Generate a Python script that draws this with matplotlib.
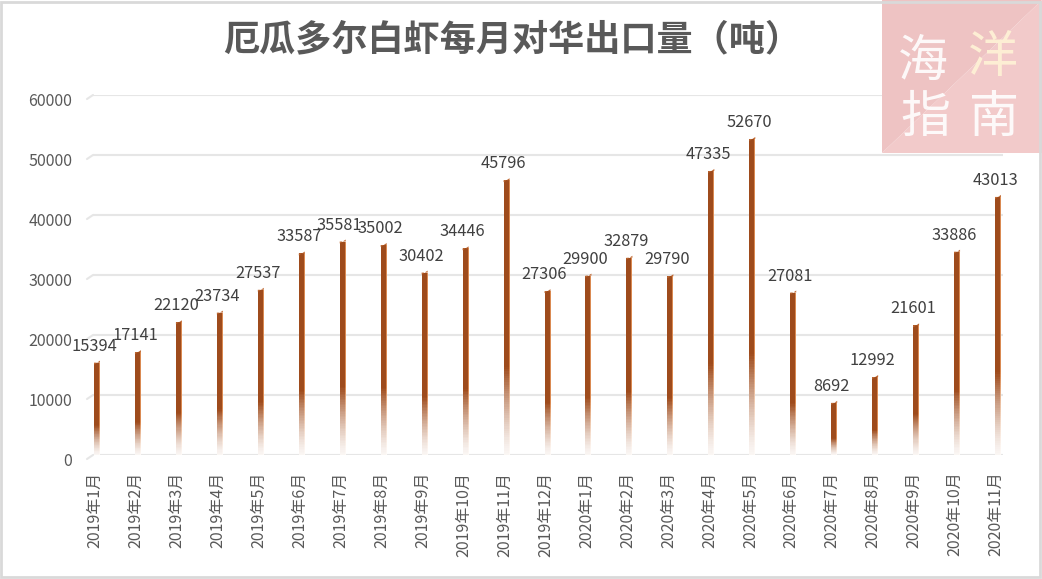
import numpy as np
import matplotlib
matplotlib.use("Agg")
import matplotlib.pyplot as plt
from matplotlib.patches import Polygon, Rectangle
from matplotlib.transforms import ScaledTranslation
from matplotlib.colors import to_rgb

plt.rcParams['font.family'] = ['Noto Sans CJK SC', 'DejaVu Sans']

title = "厄瓜多尔白虾每月对华出口量（吨）"
months = ["2019年1月", "2019年2月", "2019年3月", "2019年4月", "2019年5月", "2019年6月",
          "2019年7月", "2019年8月", "2019年9月", "2019年10月", "2019年11月", "2019年12月",
          "2020年1月", "2020年2月", "2020年3月", "2020年4月", "2020年5月", "2020年6月",
          "2020年7月", "2020年8月", "2020年9月", "2020年10月", "2020年11月"]
values = [15394, 17141, 22120, 23734, 27537, 33587, 35581, 35002, 30402, 34446, 45796, 27306,
          29900, 32879, 29790, 47335, 52670, 27081, 8692, 12992, 21601, 33886, 43013]
yticks = [0, 10000, 20000, 30000, 40000, 50000, 60000]

W, H = 1042, 579
fig = plt.figure(figsize=(W / 100, H / 100), dpi=100)
fig.patch.set_facecolor('white')

left_px, right_px, top_px, base_px = 93, 1003, 95, 455
ax = fig.add_axes([left_px / W, 1 - base_px / H, (right_px - left_px) / W, (base_px - top_px) / H])
ax.set_facecolor('none')
for s in ax.spines.values():
    s.set_visible(False)

n = len(values)
spacing_px = (998 - 97) / (n - 1)
x0 = -(97 - left_px) / spacing_px
x1 = x0 + (right_px - left_px) / spacing_px
ax.set_xlim(x0, x1)
ax.set_ylim(0, 60000)

# gridlines
ax.set_yticks(yticks)
ax.yaxis.grid(True, color='#E6E6E6', linewidth=1.5, zorder=0)
ax.set_axisbelow(True)
ax.tick_params(axis='y', length=0, pad=15, labelsize=11.5, labelcolor='#595959')
for lab in ax.get_yticklabels():
    lab.set_transform(lab.get_transform() + ScaledTranslation(0, -4 / 100, fig.dpi_scale_trans))

# small perspective stubs at left of gridlines
for yv in yticks:
    ax.annotate("", xy=(0, yv), xycoords=('axes fraction', 'data'),
                xytext=(-6, -4), textcoords='offset pixels',
                arrowprops=dict(arrowstyle='-', color='#E6E6E6', lw=1.5, shrinkA=0, shrinkB=0))

xs = np.arange(n)
vals = np.array(values, dtype=float)
ax.set_xticks(xs)
ax.set_xticklabels(months, rotation=90, va='top', ha='center')
ax.tick_params(axis='x', length=0, pad=12, labelsize=11.5, labelcolor='#595959')
for lab in ax.get_xticklabels():
    lab.set_transform(lab.get_transform() + ScaledTranslation(-2 / 100, 0, fig.dpi_scale_trans))

# bars: solid upper part + gradient fade at the bottom built from thin stacked slices
brown = np.array(to_rgb('#9E4B1C'))
light = np.array(to_rgb('#DA8A52'))
white = np.ones(3)
bw = 6 / spacing_px
main_w = bw * 5 / 6
strip_w = bw / 6
fade_frac = 0.32
K = 40

def shade(col, a):
    return a * col + (1 - a) * white

# solid upper part
ax.bar(xs - bw / 2, vals * (1 - fade_frac), bottom=vals * fade_frac, width=main_w,
       align='edge', color=brown, linewidth=0, zorder=3)
ax.bar(xs - bw / 2 + main_w, vals * (1 - fade_frac), bottom=vals * fade_frac, width=strip_w,
       align='edge', color=light, linewidth=0, zorder=3)
# fading lower part
for k in range(K):
    f0 = fade_frac * k / K
    a = ((k + 0.5) / K) ** 1.4
    a = 0.05 + 0.95 * a
    ax.bar(xs - bw / 2, vals * fade_frac / K, bottom=vals * f0, width=main_w,
           align='edge', color=shade(brown, a), linewidth=0, zorder=3, antialiased=False)
    ax.bar(xs - bw / 2 + main_w, vals * fade_frac / K, bottom=vals * f0, width=strip_w,
           align='edge', color=shade(light, a), linewidth=0, zorder=3, antialiased=False)

# slanted top cap
dy = 2 * 60000 / (base_px - top_px)
for x, v in zip(xs, values):
    cap = Polygon([(x - bw / 2, v - dy), (x + bw / 2, v + dy), (x + bw / 2, v),
                   (x - bw / 2, v)], closed=True, facecolor='#C06A34',
                  edgecolor='none', zorder=4)
    ax.add_patch(cap)
    ax.annotate(f"{v}", xy=(x, v), xytext=(-3, 16.5), textcoords='offset pixels',
                ha='center', va='center', fontsize=11.8, color='#404040', zorder=5)

ax.set_xlim(x0, x1)
ax.set_ylim(0, 60000)

# title
fig.text(512 / W, 1 - 40 / H, title, ha='center', va='center', fontsize=26,
         fontweight='bold', color='#595959')

# logo
lx0, lx1, ly0, ly1 = 882, 1042, 0, 153
fig.patches.append(Polygon([(lx0 / W, 1 - ly0 / H), (lx1 / W, 1 - ly0 / H), (lx0 / W, 1 - ly1 / H)],
                           closed=True, transform=fig.transFigure, facecolor='#EEC3C3',
                           edgecolor='none', zorder=5))
fig.patches.append(Polygon([(lx1 / W, 1 - ly0 / H), (lx1 / W, 1 - ly1 / H), (lx0 / W, 1 - ly1 / H)],
                           closed=True, transform=fig.transFigure, facecolor='#F2CACA',
                           edgecolor='none', zorder=5))
for ch, cx, cy, colr in [("海", 923, 62, 'white'), ("洋", 993, 58, '#FFF3D6'),
                         ("指", 925, 118, 'white'), ("南", 994, 118, 'white')]:
    fig.text(cx / W, 1 - cy / H, ch, ha='center', va='center', fontsize=36,
             color=colr, alpha=0.9, zorder=6)

# figure border
fig.patches.append(Rectangle((1 / W, 2 / H), (W - 3) / W, (H - 4) / H, transform=fig.transFigure,
                             facecolor='none', edgecolor='#D9D9D9', linewidth=2, zorder=10))

fig.savefig("out.png", dpi=100, facecolor='white')
